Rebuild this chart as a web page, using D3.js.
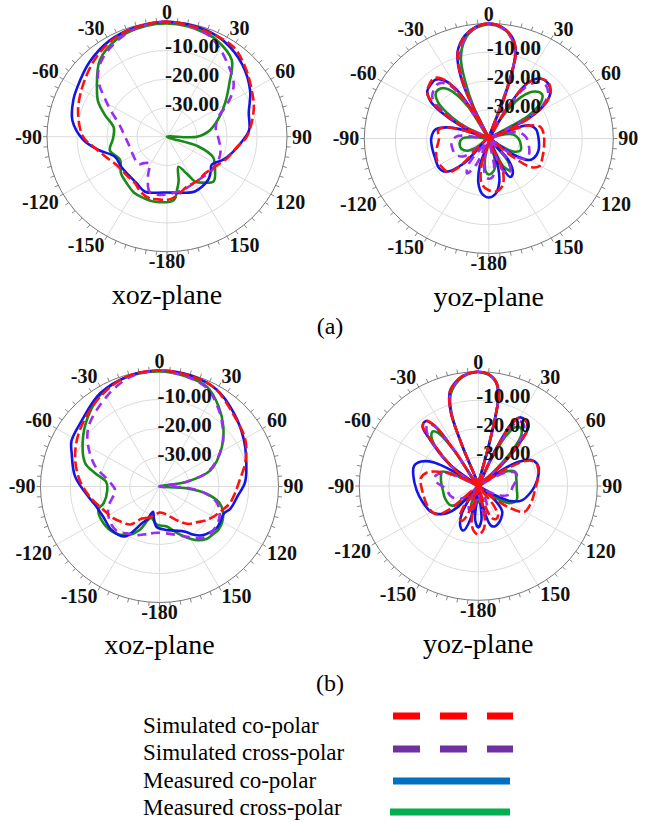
<!DOCTYPE html>
<html>
<head>
<meta charset="utf-8">
<script src="https://cdn.jsdelivr.net/npm/d3@7"></script>
<style>
  body { margin: 0; background: #fff; }
  svg { display: block; }
</style>
</head>
<body>
<svg id="chart" width="651" height="822"></svg>
<script>
// ---- chart data: [angle in degrees, gain in dB] ----
const seriesNames = ["Simulated co-polar", "Simulated cross-polar", "Measured co-polar", "Measured cross-polar"];
const angleTicks = [0, 30, 60, 90, 120, 150, 180, -150, -120, -90, -60, -30];
const angleLabels = ["0", "30", "60", "90", "120", "150", "-180", "-150", "-120", "-90", "-60", "-30"];
const ringValues = [-10, -20, -30];
const ringLabels = ["-10.00", "-20.00", "-30.00"];
const panelTitles = ["xoz-plane", "yoz-plane", "xoz-plane", "yoz-plane"];
const figureTags = ["(a)", "(b)"];

// (a) xoz-plane
const xozA_simCo = [[0,0],[15,-0.8],[35,-1.7],[47,-4.4],[60,-7.4],[72,-9.6],[90,-13.4],[99,-16.5],[110,-18.5],[121,-20.6],[135,-22],[146,-21.6],[159,-21.4],[172,-19],[180,-18],[-172,-18],[-165,-17.8],[-155,-18.9],[-147,-20.6],[-135,-21],[-120,-20.5],[-113,-19.3],[-98,-15.2],[-90,-12],[-73,-9],[-56,-6.5],[-40,-3.6],[-26,-1.4],[-12,-0.4]];
const xozA_simCross = [[0,0],[15,-1.2],[25,-3],[40,-8],[50,-11],[56,-14],[62,-18],[68,-21.5],[80,-23.5],[90,-23],[105,-21.5],[115,-21],[130,-21],[140,-21.6],[150,-21.5],[160,-21],[170,-20.5],[180,-20],[-170,-19.5],[-163,-20],[-155,-25],[-148,-29],[-140,-28],[-135,-26.5],[-120,-27],[-103,-27],[-90,-26],[-77,-24],[-60,-17],[-48,-9],[-37,-5],[-20,-1.5],[-10,-0.5]];
const xozA_measCo = [[0,0],[10,-0.3],[20,-0.8],[30,-1.8],[45,-4.5],[60,-8],[73,-11.5],[85,-12.5],[94,-15],[104,-17.5],[113,-19.6],[123,-22.2],[130,-21],[138,-19.6],[154,-18.8],[165,-19.8],[180,-20.6],[-170,-20.2],[-159,-19.5],[-147,-21],[-136,-21.5],[-124,-21.5],[-112,-21.3],[-101,-16.5],[-92,-12],[-80,-8],[-68,-6.3],[-60,-5.5],[-45,-3.4],[-30,-1.5],[-15,-0.5]];
const xozA_measCross = [[0,-0.6],[10,-1],[20,-1.8],[26,-2.5],[39,-5.7],[48,-12],[58,-17],[68,-21],[81,-25.5],[90,-30],[100,-40],[108,-29],[115,-23],[121,-21.5],[135,-18],[143,-20],[149,-21.8],[153,-25.6],[160,-28.9],[166,-24],[170,-21],[174,-17.9],[-170,-17],[-160,-17.3],[-151,-17.6],[-140,-19],[-130,-20],[-117,-22.4],[-104,-20.4],[-92,-22],[-80,-22],[-70,-18],[-62,-14],[-55,-11.5],[-40,-5.2],[-25,-2],[-10,-0.8]];

// (a) yoz-plane
const yozA_simCo = [[-172,-24],[-166,-30],[-150,-40],[-136,-26],[-132,-22.5],[-125,-22],[-115,-21.7],[-105,-22.5],[-90,-24],[-80,-23.5],[-75,-25],[-71,-31],[-68,-40],[-64,-33],[-60,-25],[-56,-19],[-52,-15],[-47,-13.5],[-40,-12.6],[-35,-15],[-32,-20],[-29,-30],[-27,-40],[-25,-30],[-24,-22],[-21,-13],[-18,-8],[-12,-3.5],[-6,-1],[0,0],[6,-1],[12,-4],[16,-8.5],[18,-16],[19.5,-26],[23,-40],[29,-28],[33,-17],[38,-13.5],[44,-12.7],[50,-14],[55,-17],[60,-23],[64,-32],[67,-40],[70,-27],[76,-23],[85,-22.3],[100,-22],[112,-21.5],[120,-21],[126,-23],[130,-31],[142,-40],[158,-28],[165,-23],[172,-21.5],[180,-22]];
const yozA_simCross = [[-175,-27],[-170,-32],[-163,-40],[-156,-30],[-150,-26],[-144,-29],[-138,-40],[-128,-30],[-118,-28],[-105,-27.8],[-95,-28],[-85,-30],[-72,-40],[-62,-30],[-57,-22],[-52,-17],[-46,-15.5],[-40,-15],[-35,-17],[-31,-23],[-28,-40],[-25,-28],[-22,-17],[-19,-10.5],[-15,-6.5],[-10,-3],[-5,-0.8],[0,0],[5,-0.9],[10,-3.2],[15,-7.5],[17,-12],[18.5,-22],[22,-40],[27,-34],[30,-26],[34,-18],[39,-14.8],[45,-14],[51,-15.5],[56,-19],[61,-27],[65,-40],[72,-34],[78,-30],[88,-28],[100,-27],[112,-26],[120,-26],[126,-29],[132,-40],[140,-32],[145,-28],[152,-26],[158,-28],[163,-40],[170,-30],[175,-26.5],[180,-26]];
const yozA_measCo = [[-174,-20.5],[-168,-24],[-163,-30],[-150,-40],[-137,-28],[-130,-22],[-123,-21],[-110,-21.5],[-100,-21.5],[-90,-21.5],[-80,-22.5],[-74,-26],[-70,-32],[-67,-40],[-64,-30],[-59,-22],[-55,-17],[-50,-14.2],[-45,-13.6],[-40,-13.3],[-35,-15.5],[-31,-21],[-28,-32],[-27,-40],[-24,-21],[-21,-12.5],[-18,-7.8],[-12,-3.3],[-6,-0.9],[0,0],[6,-1],[12,-4],[16,-8.5],[18,-16],[19.5,-26],[23,-40],[29,-28],[33,-17],[38,-13.5],[45,-13],[51,-14.5],[56,-18],[61,-25],[64,-40],[68,-29],[71,-26],[78,-24.5],[90,-24],[105,-23.5],[115,-24],[120,-25],[125,-30],[131,-40],[140,-30],[148,-25.5],[153,-25],[157,-30],[160,-40],[163,-30],[168,-24],[174,-20.5],[180,-19.5]];
const yozA_measCross = [[-175,-28.5],[-170,-33],[-150,-40],[-128,-35],[-122,-32],[-112,-30.5],[-100,-30.5],[-90,-31.5],[-84,-36],[-75,-40],[-62,-32],[-58,-26],[-53,-20],[-48,-17],[-44,-16.5],[-39,-17.5],[-35,-20.5],[-31,-27],[-27,-40],[-24,-28],[-21,-19],[-18,-11],[-14,-6],[-8,-2],[0,-0.3],[6,-1.2],[11,-3.5],[15,-7.5],[17,-12],[18.5,-22],[23,-40],[27,-36],[31,-29],[36,-22],[42,-18],[48,-17],[53,-19],[58,-25],[62,-40],[72,-36],[80,-32],[90,-30.5],[102,-29.5],[112,-29],[120,-31],[125,-37],[132,-40],[142,-30],[148,-27],[154,-29],[158,-40],[163,-36],[168,-30],[175,-28],[180,-27.5]];

// (b) xoz-plane
const xozB_simCo = [[0,0],[16,-0.5],[28,-1.2],[44,-4.7],[61,-7],[74,-10],[85,-12.9],[95,-14.5],[104,-15.7],[112,-17.6],[121,-19.3],[128,-20.8],[135,-22.5],[143,-23.8],[152,-26.5],[161,-29],[170,-30.5],[180,-31],[-170,-30],[-160,-28.5],[-152,-27.5],[-143,-23.6],[-135,-22.5],[-125,-21],[-113,-19.5],[-99,-16.4],[-85,-13],[-70,-9.8],[-54,-6.9],[-33,-3.2],[-16,-0.5]];
const xozB_simCross = [[0,0],[13,-1],[25,-2.5],[36,-6.5],[46,-10.5],[57,-15],[72,-22.5],[80,-31],[88,-40],[92,-32],[98,-25],[106,-20],[116,-17.5],[127,-16.5],[140,-17],[149,-19.5],[159,-22],[170,-23.5],[-176,-24],[-165,-23],[-155,-21.5],[-146,-20.5],[-137,-19],[-125,-19.5],[-112,-21.5],[-100,-24.5],[-94,-25],[-84,-23],[-70,-16.4],[-51,-9],[-30,-4.3],[-15,-1],[-5,-0.2]];
const xozB_measCo = [[0,0],[15,-0.3],[30,-1.5],[45,-4.5],[60,-7.3],[71,-9.2],[87,-11.2],[97,-13.5],[108,-15],[113,-16.4],[120,-16.3],[126,-16],[133,-16.8],[140,-18],[146,-20],[151,-22.2],[162,-24],[173,-25],[-176,-26],[-170,-29],[-166,-31],[-160,-28],[-155,-26],[-150,-22],[-146,-19.2],[-133,-18],[-119,-18.4],[-106,-17.4],[-100,-16.2],[-83,-11.4],[-69,-8.4],[-62,-6.5],[-50,-5.5],[-32,-2.2],[-15,-0.5]];
const xozB_measCross = [[0,-0.3],[13,-1],[25,-2.1],[36,-6.1],[46,-10.2],[57,-15],[72,-22],[80,-31],[88,-40],[94,-31],[99,-24],[106,-18.9],[116,-16.2],[127,-15.2],[132,-15.6],[139,-16],[147,-18],[159,-22.6],[170,-26],[-176,-26.8],[-166,-28.8],[-162,-28],[-156,-23.6],[-148,-20.3],[-137,-18],[-124,-17.3],[-111,-18],[-107,-20.4],[-94,-22.4],[-85,-22],[-78,-17.9],[-72,-13.7],[-58,-9.6],[-45,-6],[-32,-2.6],[-15,-0.6]];

// (b) yoz-plane
const yozB_simCo = [[170,-27],[175,-24],[180,-23],[-175,-24],[-170,-27],[-165,-40],[-160,-29],[-155,-26.5],[-150,-27.5],[-145,-32],[-138,-40],[-130,-27],[-126,-23],[-120,-22],[-110,-21.5],[-100,-21.3],[-90,-20.8],[-82,-20.5],[-75,-22],[-68,-27],[-63,-34],[-60,-40],[-56,-32],[-50,-26],[-45,-18],[-42,-12.2],[-38,-11],[-35,-14],[-33,-25],[-26,-40],[-21,-24],[-19.5,-12],[-16,-5.5],[-10,-2],[-5,-0.5],[0,0],[5,-0.7],[9,-2.8],[12,-7],[13.3,-15],[14,-26],[18,-40],[24,-30],[25.5,-22],[27,-16],[30,-12.5],[34,-12],[39,-13.3],[43,-19.6],[47,-30],[52,-40],[57,-30],[61,-22],[65,-19.5],[70,-18.9],[80,-19.5],[94,-20.9],[104,-21.2],[111,-21.4],[120,-22],[126,-27],[130,-35],[136,-40],[143,-31],[148,-27.5],[153,-27],[158,-28],[162,-33],[166,-40]];
const yozB_simCross = [[-174,-35],[-168,-32],[-160,-31],[-152,-34],[-146,-40],[-135,-36],[-125,-32],[-110,-30],[-95,-29],[-85,-26],[-78,-25],[-70,-27],[-64,-32],[-60,-40],[-55,-32],[-51,-26],[-46,-19],[-42,-14],[-38,-12.5],[-35,-14.5],[-33,-24],[-26,-40],[-21,-24],[-19.5,-12.5],[-16,-6],[-10,-2.2],[-5,-0.6],[0,0],[5,-0.8],[9,-3],[12,-7.5],[13.3,-15],[14,-26],[18,-40],[24,-31],[26,-24],[28,-17],[31,-13.5],[35,-13.5],[39,-15.5],[43,-22],[46,-32],[52,-40],[60,-33],[64,-29],[70,-26.5],[80,-27],[92,-28.5],[105,-29],[115,-32],[120,-36],[140,-40],[150,-36],[158,-32],[165,-30],[170,-31],[174,-36],[180,-40]];
const yozB_measCo = [[175,-28],[180,-25.5],[-175,-28],[-171,-40],[-167,-28],[-162,-23.6],[-156,-25],[-150,-29],[-146,-35],[-142,-40],[-137,-30],[-132,-25.7],[-125,-23],[-119,-21.6],[-105,-20.3],[-94,-19.2],[-80,-17.8],[-72,-17.3],[-66,-19],[-61,-23],[-58,-32],[-56,-40],[-52,-28],[-48,-22],[-45,-17],[-42,-12],[-38,-11.2],[-35,-14],[-33,-25],[-26,-40],[-21,-24],[-19.5,-12],[-16,-5.5],[-10,-2],[-5,-0.5],[0,0],[5,-0.7],[9,-2.8],[12,-7],[13.3,-15],[14,-26],[18,-40],[24,-30],[25.5,-21],[27,-15.5],[30,-12.3],[34,-12],[39,-13.5],[43,-20],[47,-30],[51,-40],[55,-30],[58,-24],[63,-20],[68,-18.8],[72,-18.7],[80,-19.5],[90,-21],[98,-22.4],[109,-24.5],[116,-28],[120,-34],[125,-40],[132,-32],[138,-28],[145,-26.5],[151,-25.5],[158,-24.8],[163,-25.5],[167,-31],[171,-40]];
const yozB_measCross = [[-177,-35],[-172,-31],[-166,-30.8],[-160,-33],[-152,-40],[-140,-37],[-134,-31],[-126,-28.5],[-110,-28],[-97,-28],[-85,-27.5],[-75,-27],[-68,-26.7],[-64,-30],[-60,-40],[-56,-33],[-52,-28],[-47,-21],[-43,-17],[-39,-15.5],[-36,-17],[-33,-26],[-26,-40],[-21,-25],[-19.5,-13],[-16,-6.5],[-10,-2.4],[-5,-0.7],[0,-0.2],[5,-0.9],[9,-3],[12,-7.5],[13.3,-15],[14,-26],[18,-40],[24,-33],[26,-27],[28,-20],[31,-16],[35,-15.2],[39,-17],[43,-24],[46,-33],[52,-40],[58,-33],[62,-29],[68,-26.7],[80,-27],[95,-27],[111,-26.2],[120,-28],[126,-33],[135,-40],[150,-40],[168,-36],[175,-34]];

// ---- layout ----
const seriesColors = ["#ff1010", "#9a2cf5", "#1414e6", "#188a18"];
const seriesDash = ["10,4", "9,6", null, null];
const legendColors = ["#ff0000", "#7030a0", "#0070c0", "#00b050"];
const drawOrder = [3, 2, 1, 0]; // measured cross first, simulated co on top

const panels = [
  { cx: 167,   cy: 136.7, rx: 120,   ry: 115,   series: [xozA_simCo, xozA_simCross, xozA_measCo, xozA_measCross] },
  { cx: 488.8, cy: 138.5, rx: 124.5, ry: 115,   series: [yozA_simCo, yozA_simCross, yozA_measCo, yozA_measCross] },
  { cx: 159.5, cy: 486.5, rx: 119,   ry: 116,   series: [xozB_simCo, xozB_simCross, xozB_measCo, xozB_measCross] },
  { cx: 478.3, cy: 486,   rx: 119,   ry: 114.3, series: [yozB_simCo, yozB_simCross, yozB_measCo, yozB_measCross] }
];

const svg = d3.select("#chart");
const serif = "'Liberation Serif', 'Times New Roman', serif";

const r = d3.scaleLinear().domain([-40, 0]).range([0, 1]).clamp(true);
const theta = d3.scaleLinear().domain([0, 360]).range([0, 2 * Math.PI]);

function drawPanel(p, idx) {
  const g = svg.append("g").attr("class", "panel");
  const px = (deg, v) => p.cx + p.rx * r(v) * Math.sin(theta(deg));
  const py = (deg, v) => p.cy - p.ry * r(v) * Math.cos(theta(deg));

  // grid rings
  g.selectAll("ellipse.ring")
    .data(ringValues)
    .join("ellipse")
      .attr("class", "ring")
      .attr("cx", p.cx).attr("cy", p.cy)
      .attr("rx", d => p.rx * r(d))
      .attr("ry", d => p.ry * r(d))
      .attr("fill", "none")
      .attr("stroke", "#dcdcdc")
      .attr("stroke-width", 1);

  // spokes every 30 degrees
  g.selectAll("line.spoke")
    .data(d3.range(0, 360, 30))
    .join("line")
      .attr("class", "spoke")
      .attr("x1", p.cx).attr("y1", p.cy)
      .attr("x2", d => px(d, 0))
      .attr("y2", d => py(d, 0))
      .attr("stroke", "#dcdcdc")
      .attr("stroke-width", 1);

  // outer ring with minor ticks pointing outward
  g.append("ellipse")
    .attr("cx", p.cx).attr("cy", p.cy)
    .attr("rx", p.rx).attr("ry", p.ry)
    .attr("fill", "none")
    .attr("stroke", "#777")
    .attr("stroke-width", 1);

  g.selectAll("line.tick")
    .data(d3.range(0, 360, 5))
    .join("line")
      .attr("class", "tick")
      .attr("x1", d => px(d, 0))
      .attr("y1", d => py(d, 0))
      .attr("x2", d => p.cx + (p.rx + 4) * Math.sin(theta(d)))
      .attr("y2", d => p.cy - (p.ry + 4) * Math.cos(theta(d)))
      .attr("stroke", "#777")
      .attr("stroke-width", 0.9);

  // pattern curves
  const line = d3.line()
    .x(d => px(d[0], d[1]))
    .y(d => py(d[0], d[1]))
    .curve(d3.curveCatmullRomClosed.alpha(0.5));

  drawOrder.forEach(i => {
    const pts = p.series[i].slice().sort((a, b) => a[0] - b[0]);
    g.append("path")
      .attr("d", line(pts))
      .attr("fill", "none")
      .attr("stroke", seriesColors[i])
      .attr("stroke-width", 2.6)
      .attr("stroke-linejoin", "round")
      .attr("stroke-dasharray", seriesDash[i]);
  });

  // angle labels
  g.selectAll("text.angle")
    .data(angleTicks)
    .join("text")
      .attr("class", "angle")
      .attr("x", d => p.cx + (p.rx + 5) * Math.sin(theta(d)))
      .attr("y", d => {
        const c = Math.cos(theta(d));
        const y = p.cy - (p.ry + 3) * c;
        return c > 0.3 ? y : (c < -0.3 ? y + 13.5 : y + 6.8);
      })
      .attr("text-anchor", d => {
        const s = Math.sin(theta(d));
        return s > 0.3 ? "start" : (s < -0.3 ? "end" : "middle");
      })
      .attr("font-family", serif)
      .attr("font-weight", "bold")
      .attr("font-size", 20)
      .attr("fill", "#111")
      .text((d, i) => angleLabels[i]);

  // radial labels
  g.selectAll("text.ringLabel")
    .data(ringValues)
    .join("text")
      .attr("class", "ringLabel")
      .attr("x", p.cx - 2)
      .attr("y", d => p.cy - p.ry * r(d) + 3)
      .attr("font-family", serif)
      .attr("font-weight", "bold")
      .attr("font-size", 21)
      .attr("fill", "#111")
      .text((d, i) => ringLabels[i]);

  // plane title
  g.append("text")
    .attr("x", p.cx)
    .attr("y", p.cy + 167)
    .attr("text-anchor", "middle")
    .attr("font-family", serif)
    .attr("font-size", 28)
    .attr("fill", "#000")
    .text(panelTitles[idx]);
}

panels.forEach(drawPanel);

// (a) / (b)
svg.selectAll("text.tag")
  .data(figureTags)
  .join("text")
    .attr("class", "tag")
    .attr("x", 330)
    .attr("y", (d, i) => [334, 691][i])
    .attr("text-anchor", "middle")
    .attr("font-family", serif)
    .attr("font-size", 24)
    .text(d => d);

// legend
const legend = svg.append("g").attr("class", "legend");
const legendTextY = [733, 760, 788, 815];
const legendLineY = [716, 749, 781, 812];

legend.selectAll("text")
  .data(seriesNames)
  .join("text")
    .attr("x", 143)
    .attr("y", (d, i) => legendTextY[i])
    .attr("font-family", serif)
    .attr("font-size", 23)
    .attr("fill", "#000")
    .text(d => d);

legend.selectAll("line")
  .data(seriesNames)
  .join("line")
    .attr("x1", (d, i) => i === 3 ? 390 : 393)
    .attr("x2", (d, i) => i < 2 ? 513 : 510)
    .attr("y1", (d, i) => legendLineY[i])
    .attr("y2", (d, i) => legendLineY[i])
    .attr("stroke", (d, i) => legendColors[i])
    .attr("stroke-width", 7)
    .attr("stroke-dasharray", (d, i) => i < 2 ? "27,20" : null);
</script>
</body>
</html>
